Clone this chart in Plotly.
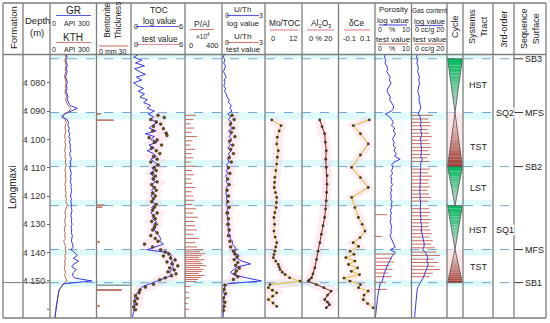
import plotly.graph_objects as go

W, H = 550, 323
FONT = "Liberation Sans, Arial, sans-serif"

# ---------------- data ----------------
depth_m = list(range(4070, 4164))  # 1 m log samples

gr_api = [105,110,102,108,112,104,110,106,100,108,
          112,106,110,104,112,116,110,118,130,176,
          140,95,75,110,120,115,125,118,128,122,
          130,125,132,128,135,126,132,138,130,135,
          128,134,138,132,136,130,138,134,140,136,
          132,138,134,140,136,142,138,135,140,138,
          142,136,140,138,144,140,138,146,150,135,
          160,175,150,185,155,140,170,150,145,160,
          270,90,72,60,55,52,50,45,42,40,
          38,36,34,32]
kth_api = [98,102,96,100,104,98,102,97,94,100,
           104,98,102,97,103,106,100,108,115,135,
           125,92,85,98,104,100,96,102,98,94,
           100,96,102,98,94,100,96,102,98,104,
           100,96,102,98,104,100,96,102,98,104,
           100,106,102,112,104,100,96,102,98,94,
           100,96,92,98,94,100,88,95,102,98,
           104,96,100,94,98,92,96,100,94,100,
           110,85,72,62,56,52,50,46,43,40,
           38,36,34,32]
toc_log = [0.8,0.3,1.2,0.5,1.5,0.4,0.9,1.6,0.6,1.2,
           0.3,0.7,1.4,0.8,1.5,1.0,1.8,1.4,2.2,1.8,
           2.6,1.9,2.5,2.2,3.0,2.4,2.0,2.8,1.6,2.6,
           2.2,2.9,2.0,2.6,1.8,2.5,2.8,2.2,2.6,3.0,
           2.3,2.6,2.1,2.5,2.3,2.7,2.2,2.5,2.3,2.6,
           2.2,2.5,2.4,2.7,2.3,2.5,2.2,2.6,2.4,2.8,
           2.5,2.7,2.6,2.9,3.1,3.3,3.2,3.6,2.6,1.8,
           4.2,4.5,4.3,4.6,4.4,4.7,4.5,4.3,4.6,3.8,
           3.0,2.0,1.3,1.0,0.7,0.5,0.4,0.5,0.3,0.4,
           0.3,0.3,0.2,0.2]
uth_log = [0.15,0.1,0.2,0.12,0.25,0.15,0.1,0.2,0.3,0.15,
           0.22,0.12,0.25,0.18,0.3,0.35,0.5,0.45,0.65,0.55,
           0.7,0.4,0.6,0.45,0.7,0.5,0.75,0.45,0.65,0.5,
           0.7,0.45,0.6,0.4,0.65,0.45,0.55,0.4,0.5,0.3,
           0.45,0.3,0.4,0.25,0.4,0.3,0.45,0.3,0.4,0.25,
           0.35,0.3,0.45,0.3,0.4,0.35,0.5,0.35,0.45,0.4,
           0.55,0.4,0.5,0.45,0.6,0.55,0.75,0.7,0.9,1.0,
           0.85,1.2,1.0,1.4,2.0,1.1,0.8,0.6,0.9,1.8,
           2.75,0.4,0.2,0.15,0.1,0.2,0.12,0.08,0.15,0.1,
           0.12,0.08,0.1,0.05]
por_log = [2.8,2.6,3.0,2.7,3.2,3.5,3.2,3.8,4.2,3.9,
           4.4,4.0,3.5,3.3,3.8,4.2,4.0,4.6,5.0,5.1,
           4.5,2.8,4.0,4.6,5.0,4.5,5.4,5.0,5.6,5.2,
           4.8,5.3,5.0,5.6,5.2,5.8,5.4,6.9,5.2,4.6,
           4.9,4.5,4.8,4.3,4.6,4.4,4.8,4.3,4.6,4.2,
           4.5,4.3,4.7,4.4,4.6,4.2,4.5,4.2,4.4,4.1,
           4.4,4.6,4.3,4.5,4.1,4.4,4.7,5.0,5.5,4.2,
           5.6,4.8,4.3,4.0,3.6,3.2,3.0,2.6,2.4,2.2,
           2.0,1.4,1.2,1.0,0.9,0.8,0.7,0.6,0.6,0.5,
           0.4,0.3,0.2,0.1]
gas_log = [3.2,2.8,3.5,3.0,3.6,3.9,3.4,4.0,4.5,4.0,
           4.6,4.2,3.8,3.5,4.0,4.4,4.2,4.8,5.0,5.2,
           4.6,3.8,4.8,5.0,5.4,5.0,5.6,5.2,5.8,5.4,
           5.0,5.5,5.2,5.8,5.4,5.6,5.2,6.0,5.4,5.0,
           5.3,5.0,5.2,4.8,5.0,4.9,5.2,4.8,5.0,4.7,
           5.0,4.8,5.2,5.0,5.2,4.9,5.2,5.0,5.4,5.2,
           5.6,5.8,5.5,5.9,6.0,6.4,6.8,7.2,7.0,6.2,
           8.0,8.8,9.2,8.6,9.4,9.0,8.4,8.0,7.2,6.5,
           5.5,4.5,3.8,3.2,3.0,2.8,2.6,2.4,2.3,2.2,
           2.1,2.0,1.9,1.8]

bent_depth = [4091.0, 4093.2, 4123.2, 4123.9, 4136.2, 4153.2, 4158.8]
bent_mm = [4, 15, 7, 5, 3, 22, 3]

toc_test_depth = [4091.5,4092.3,4093.0,4093.8,4094.6,4095.4,4096.2,4097.0,4097.8,4098.6,
                  4099.4,4100.2,4101.0,4102.0,4103.0,4104.0,4105.0,4106.0,4107.0,4108.0,
                  4109.0,4110.0,4111.0,4112.0,4113.0,4114.0,4115.0,4116.0,4117.0,4118.0,
                  4119.0,4120.0,4121.0,4122.0,4123.0,4124.0,4125.0,4126.0,4127.0,4128.0,
                  4129.0,4130.0,4131.0,4132.0,4133.0,4134.0,4135.0,4136.0,4137.0,4138.0,
                  4139.0,4139.8,4140.5,4141.2,4141.9,4142.6,4143.3,4144.0,4144.7,4145.4,
                  4146.1,4146.8,4147.5,4148.2,4148.9,4149.6,4151.2,4152.2,4153.2,4154.2,
                  4155.2,4156.2,4157.2,4158.2,4159.2,4160.2]
toc_test_val = [3.0,3.7,2.2,2.8,3.3,2.5,3.6,2.4,3.9,4.0,
                2.0,2.9,2.6,3.4,2.3,2.8,3.2,2.5,2.9,2.2,
                3.0,2.6,2.8,2.4,2.7,2.5,2.9,2.3,2.6,2.8,
                2.4,2.7,2.5,2.3,2.8,2.6,2.4,2.9,2.5,2.7,
                2.3,2.8,2.6,2.4,2.9,2.2,2.7,3.0,1.5,2.4,
                3.3,3.8,4.2,3.6,4.4,4.9,4.0,4.6,5.2,4.3,
                4.8,4.1,5.0,4.5,3.8,3.2,2.5,1.6,1.0,0.9,
                0.5,0.7,0.4,0.6,0.3,0.5]

pal_depth = [4091.5,4093.0,4094.5,4096.0,4097.5,4099.0,4100.5,4102.0,4103.5,4105.0,
             4106.5,4108.0,4109.5,4111.0,4112.5,4114.0,4115.5,4117.0,4118.5,4120.0,
             4121.5,4123.0,4124.5,4126.0,4127.5,4129.0,4130.5,4132.0,4133.5,4135.0,
             4136.5,4138.0,4139.0,4139.7,4140.4,4141.1,4141.8,4142.5,4143.2,4143.9,
             4144.6,4145.3,4146.0,4146.7,4147.4,4148.1,4148.8,4149.5,4150.2,4152.0,
             4154.0,4156.0,4158.0,4160.0]
pal_val = [120,90,60,100,70,130,80,60,110,70,
           90,60,120,75,95,65,80,110,70,90,
           100,80,120,90,140,100,110,130,90,150,
           110,130,200,160,220,180,150,210,170,190,
           230,160,200,180,150,210,170,140,120,60,
           40,50,30,45]

uth_test_depth = [4091.5,4093.0,4094.5,4096.0,4097.5,4099.0,4100.5,4102.0,4103.5,4105.0,
                  4106.5,4108.0,4110.0,4112.0,4114.0,4116.0,4118.0,4120.0,4122.0,4124.0,
                  4126.0,4128.0,4130.0,4132.0,4134.0,4136.0,4138.0,4139.5,4140.5,4141.5,
                  4142.5,4143.5,4144.5,4145.5,4146.5,4147.5,4148.5,4149.5,4151.5,4153.0,
                  4154.5,4156.0,4157.5,4159.0,4160.5]
uth_test_val = [0.7,0.85,0.6,0.8,0.65,0.9,0.55,0.75,0.6,0.8,
                0.5,0.65,0.45,0.55,0.4,0.5,0.35,0.45,0.4,0.5,
                0.35,0.45,0.4,0.5,0.45,0.55,0.6,0.8,0.9,1.05,
                0.85,1.1,0.95,1.2,1.0,0.9,1.1,0.8,0.2,0.15,
                0.25,0.1,0.2,0.15,0.1]

mo_depth = [4093.1,4095.1,4097.0,4099.2,4101.6,4104.0,4106.3,4108.7,4111.0,4113.4,
            4115.2,4117.0,4118.8,4120.5,4122.3,4124.1,4125.9,4127.6,4130.0,4132.4,
            4134.5,4136.5,4138.0,4139.5,4140.7,4141.8,4143.0,4144.2,4145.1,4146.0,
            4146.9,4147.7,4148.9,4150.1,4151.3,4152.4,4153.3,4154.2,4155.4,4156.6,
            4157.8,4159.0]
mo_toc = [2.2,5.2,4.6,4.0,3.8,4.3,4.0,3.8,3.5,3.2,
          3.1,3.0,3.4,3.8,3.7,3.6,3.2,2.9,3.1,2.9,
          3.3,3.8,3.5,3.2,2.9,2.7,3.5,4.3,4.6,4.9,
          5.6,6.5,8.0,11.4,1.6,1.1,2.4,3.8,2.5,1.1,
          2.6,3.8]

al_depth = [4093.1,4095.5,4098.0,4101.0,4104.0,4107.0,4109.9,4112.8,4115.8,4118.7,
            4121.7,4124.6,4127.6,4130.5,4133.5,4136.5,4139.5,4142.4,4145.4,4147.5,
            4148.9,4149.6,4150.1,4151.3,4152.4,4153.6,4155.0,4156.6,4157.5,4158.4,
            4159.5]
al2o3 = [9.7,11.0,12.4,12.8,13.3,13.0,13.3,13.8,13.7,13.5,
         13.3,12.9,12.4,11.5,10.6,9.8,8.8,8.0,7.0,6.0,
         5.2,4.0,3.4,7.9,12.0,16.0,14.0,12.4,14.0,15.1,
         13.3]

ce_depth = [4093.1,4095.1,4098.0,4101.6,4105.5,4109.9,4113.5,4117.0,4120.5,4124.1,
            4127.6,4130.0,4132.4,4134.7,4136.5,4137.8,4139.5,4140.6,4141.8,4143.0,
            4144.2,4145.4,4146.6,4147.8,4149.0,4150.1,4151.3,4152.4,4153.6,4155.0,
            4156.6,4158.0,4159.5]
d_ce = [0.069,-0.019,0.02,0.063,0.02,-0.028,0.02,0.063,-0.028,-0.010,
        0.009,0.03,0.045,0.018,-0.02,0.01,-0.037,-0.015,-0.06,-0.01,
        -0.045,0.005,-0.03,0.015,-0.07,-0.037,0.02,0.01,0.063,0.04,
        0.036,0.06,0.09]

por_test_depth = [4126.6, 4134.3, 4140.5, 4142.0, 4143.3, 4144.6, 4145.9, 4147.2, 4148.5, 4150.5, 4153.0]
por_test_val = [3.3, 1.9, 5.5, 4.5, 5.2, 4.0, 4.8, 3.5, 4.5, 3.0, 3.2]

gas_test_depth = [4091.5,4092.8,4094.0,4095.2,4096.5,4097.8,4099.0,4100.3,4101.5,4102.8,
                  4104.0,4105.3,4106.5,4107.8,4110.5,4111.8,4113.0,4114.3,4115.5,4116.8,
                  4118.0,4119.3,4120.5,4121.8,4124.5,4125.8,4127.0,4128.3,4129.5,4130.8,
                  4132.0,4133.3,4134.5,4135.8,4137.0,4138.3,4139.8,4141.0,4142.3,4143.5,
                  4144.8,4146.0,4147.3,4148.5]
gas_test_val = [12,9.5,10.5,11,9,10,11.5,9.5,10.5,11,
                9.5,10.5,9,10,10.5,9.5,11.5,10,9.5,10.5,
                9,10,11,9.5,10,10.5,9.5,11,10,9.5,
                10.5,11.5,10,12,11,13,14,16,12.5,15,
                13,16,12,10]

surf_depth = [4071.5, 4090.5, 4109.6, 4138.9, 4150.6]
surf_label = ["SB3", "MFS", "SB2", "MFS", "SB1"]
tract_top = [4071.5, 4090.5, 4109.6, 4123.4, 4138.9]
tract_base = [4090.5, 4109.6, 4123.4, 4138.9, 4150.6]
tract_name = ["HST", "TST", "LST", "HST", "TST"]
tract_label_depth = [4080.7, 4102.8, 4117.0, 4132.0, 4145.0]
seq_name = ["SQ2", "SQ1"]
seq_label_depth = [4090.5, 4132.0]
band_top = [4070.0, 4090.5, 4107.3, 4121.4, 4138.9, 4149.8]
band_base = [4071.5, 4093.0, 4109.6, 4123.4, 4141.0, 4152.0]
dash_depth = [4071.5, 4090.5, 4109.6, 4123.4, 4138.9, 4150.6]
formation_base = 4150.6
depth_ticks = [4080, 4090, 4100, 4110, 4120, 4130, 4140, 4150]
depth_ticktext = ["4 080", "4 090", "4 100", "4 110", "4 120", "4 130", "4 140", "4 150"]
minor_tick = 4160

# ---------------- styling / layout helpers ----------------
cols = [3, 23, 50, 96.5, 131, 185, 222, 265, 302, 338.5, 375, 411.5, 447, 463, 493, 514, 546]
TOP, HDR, BOT = 3, 54.5, 318
BLUE = 'rgb(55,55,225)'
BROWN = 'rgb(185,105,70)'
BAR = 'rgb(200,105,95)'
GOLD = 'rgb(225,195,70)'
DARKRED = 'rgb(140,45,35)'
PINK = 'rgba(255,170,200,0.22)'
GRID = 'rgb(125,125,125)'

fig = go.Figure()
shapes, anns = [], []

def px(x): return x / W
def py(y): return 1 - y / H

def txt(x, y, s, size=8, angle=0, xanchor='center', color='#222'):
    anns.append(dict(x=px(x), y=py(y), xref='paper', yref='paper', text=s, showarrow=False,
                     font=dict(size=size, color=color, family=FONT), textangle=angle,
                     xanchor=xanchor, yanchor='middle', borderpad=0))

def pline(x0, x1, y0, y1, color=GRID, width=1, dash=None, layer='above'):
    shapes.append(dict(type='line', xref='paper', yref='paper', x0=px(x0), x1=px(x1), y0=py(y0), y1=py(y1),
                       line=dict(color=color, width=width, dash=dash), layer=layer))

axes = {}
def add_axis(n, c0, c1, rng):
    key = 'xaxis' if n == 1 else 'xaxis%d' % n
    axes[key] = dict(domain=[px(cols[c0]), px(cols[c1])], range=rng, anchor='y', visible=False, fixedrange=True)
    return 'x' if n == 1 else 'x%d' % n

xGR = add_axis(1, 2, 3, [0, 300])
xBE = add_axis(2, 3, 4, [0, 30])
xTOC = add_axis(3, 4, 5, [0, 6])
xPA = add_axis(4, 5, 6, [0, 400])
xUT = add_axis(5, 6, 7, [0, 3])
xMO = add_axis(6, 7, 8, [0, 12])
xAL = add_axis(7, 8, 9, [0, 20])
xCE = add_axis(8, 9, 10, [-0.1, 0.1])
xPO = add_axis(9, 10, 11, [0, 10])
xGA = add_axis(10, 11, 12, [0, 20])
xCY = add_axis(11, 12, 13, [-0.04, 1.04])

def line(x, y, xa, color, width=1, mode='lines', marker=None):
    fig.add_trace(go.Scatter(x=x, y=y, xaxis=xa, yaxis='y', mode=mode, line=dict(color=color, width=width),
                             marker=marker, hoverinfo='skip'))

def bars(d, v, xa, color=BAR, width=1):
    xs, ys = [], []
    for di, vi in zip(d, v):
        xs += [0, vi, None]; ys += [di, di, None]
    fig.add_trace(go.Scatter(x=xs, y=ys, xaxis=xa, yaxis='y', mode='lines',
                             line=dict(color=color, width=width), hoverinfo='skip'))

DOT = dict(size=2.8, color='rgb(110,75,25)', line=dict(color='rgb(40,28,10)', width=0.5))
DOT2 = dict(size=2.8, color='rgb(70,55,30)', line=dict(width=0))

# GR / KTH
line(kth_api, depth_m, xGR, BROWN, 1)
line(gr_api, depth_m, xGR, BLUE, 1)
# Bentonite
bars(bent_depth, bent_mm, xBE, 'rgb(170,80,60)', 1.3)
# TOC
line(toc_test_val, toc_test_depth, xTOC, PINK, 10)
line(toc_log, depth_m, xTOC, BLUE, 1)
line(toc_test_val, toc_test_depth, xTOC, 'black', 1, mode='markers', marker=DOT)
# P/Al
bars(pal_depth, pal_val, xPA)
# U/Th
line(uth_test_val, uth_test_depth, xUT, PINK, 10)
line(uth_log, depth_m, xUT, BLUE, 1)
line(uth_test_val, uth_test_depth, xUT, 'black', 1, mode='markers', marker=DOT)
# Mo/TOC
line(mo_toc, mo_depth, xMO, PINK, 10)
line(mo_toc, mo_depth, xMO, GOLD, 1.1, mode='lines+markers', marker=DOT2)
# Al2O3
line(al2o3, al_depth, xAL, PINK, 10)
line(al2o3, al_depth, xAL, DARKRED, 1.1, mode='lines+markers', marker=DOT2)
# dCe
line(d_ce, ce_depth, xCE, PINK, 8)
line(d_ce, ce_depth, xCE, GOLD, 1.1, mode='lines+markers', marker=DOT2)
# Porosity
bars(por_test_depth, por_test_val, xPO)
line(por_log, depth_m, xPO, BLUE, 1)
# Gas
bars(gas_test_depth, gas_test_val, xGA)
line(gas_log, depth_m, xGA, BLUE, 1)

# cyan bands and dashed sequence lines
for t, b in zip(band_top, band_base):
    shapes.append(dict(type='rect', xref='paper', yref='y', x0=px(cols[2]), x1=px(cols[14]), y0=t, y1=b,
                       fillcolor='rgb(222,250,250)', line=dict(width=0), layer='below'))
for d in dash_depth:
    shapes.append(dict(type='line', xref='paper', yref='y', x0=px(cols[2]), x1=px(cols[15] - 1), y0=d, y1=d,
                       line=dict(color='rgb(120,165,215)', width=1, dash='dash'), layer='below'))

# cycle triangles with gradient strips
def mix(c1, c2, t):
    return 'rgb(%d,%d,%d)' % tuple(round(a + (b - a) * t) for a, b in zip(c1, c2))
GREEN, GREEN_PT = (0, 185, 90), (205, 215, 215)
RED, RED_PT = (160, 60, 50), (248, 228, 228)
N = 16
for top, base, name in zip(tract_top, tract_base, tract_name):
    if name in ('HST', 'LST'):
        dw, dp, cw, cp = top, base, GREEN, GREEN_PT
    else:
        dw, dp, cw, cp = base, top, RED, RED_PT
        shapes.append(dict(type='rect', xref=xCY, yref='y', x0=-0.04, x1=1.04, y0=top, y1=base,
                           fillcolor='rgb(255,230,234)', line=dict(width=0), layer='below'))
    for i in range(N):
        t0, t1 = i / N, (i + 1) / N
        da = dw + (dp - dw) * t0
        db = dw + (dp - dw) * t1
        w0, w1 = 0.5 * (1 - t0), 0.5 * (1 - t1)
        path = f"M {0.5 - w0},{da} L {0.5 + w0},{da} L {0.5 + w1},{db} L {0.5 - w1},{db} Z"
        shapes.append(dict(type='path', path=path, xref=xCY, yref='y', fillcolor=mix(cw, cp, (t0 + t1) / 2),
                           line=dict(width=0), layer='above'))
    shapes.append(dict(type='path', path=f"M 0,{dw} L 1,{dw} L 0.5,{dp} Z", xref=xCY, yref='y',
                       line=dict(color='rgb(80,80,80)', width=0.8), layer='above'))

# systems tract / sequence labels
for name, d in zip(tract_name, tract_label_depth):
    anns.append(dict(x=px(478.5), y=d, xref='paper', yref='y', text=name, showarrow=False, xanchor='center',
                     yanchor='middle', font=dict(size=9, family=FONT, color='#222')))
for name, d in zip(seq_name, seq_label_depth):
    anns.append(dict(x=px(504.5), y=d, xref='paper', yref='y', text=name, showarrow=False, bgcolor='white',
                     xanchor='center', yanchor='middle', borderpad=0, font=dict(size=9, family=FONT, color='#222')))
for name, d in zip(surf_label, surf_depth):
    shapes.append(dict(type='line', xref='paper', yref='y', x0=px(514), x1=px(523), y0=d, y1=d,
                       line=dict(color='rgb(60,60,60)', width=1)))
    anns.append(dict(x=px(523.5), y=d, xref='paper', yref='y', text=name, showarrow=False, xanchor='left',
                     yanchor='middle', borderpad=0, font=dict(size=9, family=FONT, color='#222')))

# formation
shapes.append(dict(type='line', xref='paper', yref='y', x0=px(cols[0]), x1=px(cols[2]), y0=formation_base,
                   y1=formation_base, line=dict(color=GRID, width=1)))
shapes.append(dict(type='line', xref='paper', yref='y', x0=px(cols[3]), x1=px(cols[4]), y0=formation_base + 0.9,
                   y1=formation_base + 0.9, line=dict(color='rgb(110,110,110)', width=1)))
shapes.append(dict(type='line', xref='paper', yref='y', x0=px(cols[2] - 3), x1=px(cols[2]), y0=minor_tick,
                   y1=minor_tick, line=dict(color='#666', width=1)))
txt(13, 188, "Longmaxi", 10, -90)

# frame
for c in cols:
    pline(c, c, TOP, BOT, GRID, 1.3)
pline(cols[0], cols[-1], TOP, TOP, GRID, 1.3)
pline(cols[0], cols[-1], BOT, BOT, GRID, 1.3)
pline(cols[0], cols[-1], HDR, HDR, GRID, 1.3)

# header text
LB = 'rgb(90,90,220)'
LR = 'rgb(200,130,110)'
LP = 'rgb(225,140,150)'
txt(13, 28, "Formation", 9.5, -90)
txt(37, 21, "Depth", 9.5); txt(37, 32, "(m)", 9.5)
txt(73, 10, "GR", 10); pline(56, 91, 15.5, 15.5, LB, 1.2)
txt(54, 23, "0", 7); txt(70, 23, "API", 7); txt(84, 23, "300", 7)
txt(73, 37, "KTH", 10); pline(56, 91, 42.5, 42.5, LR, 1.2)
txt(54, 49.5, "0", 7); txt(70, 49.5, "API", 7); txt(84, 49.5, "300", 7)
txt(113, 21, "Bentonite<br>Thickness", 8.3, -90)
pline(99, 128, 46, 46, LR, 1.2)
txt(101, 51, "0", 7); txt(116, 51, "mm 30", 7)
txt(159, 10, "TOC", 8.5)
txt(160, 21.5, "log value", 8.3); txt(133, 26, "0", 7.5, xanchor='left'); txt(183.5, 26, "6", 7.5, xanchor='right')
pline(136, 179, 26.5, 26.5, LB, 1.2)
txt(160, 39, "test value", 8.3); txt(133, 44.5, "0", 7.5, xanchor='left'); txt(183.5, 44.5, "6", 7.5, xanchor='right')
pline(136, 179, 44.5, 44.5, LP, 1.2)
txt(202, 24.5, "P/Al", 8.5); pline(190, 214, 29.5, 29.5, LR, 1.2)
txt(203, 36, "×10<sup>4</sup>", 6.5)
txt(188, 46, "0", 7.5, xanchor='left'); txt(220, 46, "400", 7.5, xanchor='right')
txt(242, 9.5, "U/Th", 8); pline(227, 259, 15.5, 15.5, LB, 1.2)
txt(224, 15.5, "0", 7, xanchor='left'); txt(264, 15.5, "3", 7, xanchor='right')
txt(243, 23.5, "log value", 8)
txt(242, 36.5, "U/Th", 8); pline(227, 259, 42.5, 42.5, LR, 1.2)
txt(224, 42.5, "0", 7, xanchor='left'); txt(264, 42.5, "3", 7, xanchor='right')
txt(243, 49.5, "test value", 8)
txt(284, 23.5, "Mo/TOC", 8.3); pline(270, 298, 30, 30, LP, 1.2)
txt(273, 38, "0", 7.5); txt(293, 38, "12", 7.5)
txt(320.5, 23.5, "Al<sub>2</sub>O<sub>3</sub>", 8.3); pline(307, 334, 30, 30, LP, 1.2)
txt(320.5, 38, "0 % 20", 7.5)
txt(357, 23.5, "δCe", 8.3); pline(344, 370, 30, 30, LP, 1.2)
txt(356.5, 38, "-0.1  0.1", 7.5)
txt(393, 9.5, "Porosity", 8)
txt(393, 20.5, "log value", 8); pline(379, 407, 25, 25, LB, 1.2)
txt(377, 29.5, "0", 7, xanchor='left'); txt(392, 29.5, "%", 7); txt(410.5, 29.5, "10", 7, xanchor='right')
txt(393, 39.5, "test value", 8); pline(378, 408, 44, 44, LR, 1.2)
txt(377, 49, "0", 7, xanchor='left'); txt(392, 49, "%", 7); txt(410.5, 49, "10", 7, xanchor='right')
txt(429, 10.5, "Gas content", 6.5)
txt(429, 21.5, "log value", 7.8); pline(415, 443, 25.5, 25.5, LB, 1.2)
txt(429, 30, "0 cc/g 20", 7.2)
txt(429, 39.5, "test value", 7.8); pline(414, 444, 44, 44, LR, 1.2)
txt(429, 49, "0 cc/g 20", 7.2)
txt(455, 27, "Cycle", 9, -90)
txt(478, 27, "Systems<br>Tract", 9, -90)
txt(503.5, 29, "3rd-order", 9, -90)
txt(530, 29, "Sequence<br>Surface", 9, -90)

layout = dict(width=W, height=H, margin=dict(l=0, r=0, t=0, b=0), paper_bgcolor='white',
              plot_bgcolor='rgba(0,0,0,0)', showlegend=False, shapes=shapes, annotations=anns,
              yaxis=dict(domain=[py(BOT), py(HDR)], range=[4163.1, 4070.0], anchor='free', position=px(cols[2]),
                         tickvals=depth_ticks, ticktext=depth_ticktext, ticks='outside', ticklen=3,
                         tickcolor='#666', tickfont=dict(size=9, family=FONT, color='#333'),
                         showgrid=False, zeroline=False, showline=False, fixedrange=True))
layout.update(axes)
fig.update_layout(**layout)
fig.write_html("out.html", config={'displayModeBar': False, 'staticPlot': True},
               post_script="document.body.style.margin='0px';document.body.style.overflow='hidden';")
